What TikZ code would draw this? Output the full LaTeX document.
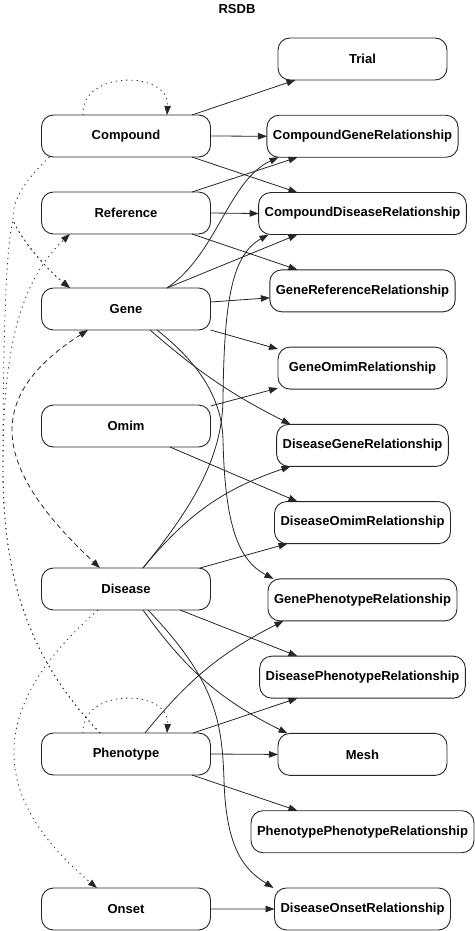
\documentclass[tikz,border=0pt]{standalone}
\usepackage{fontspec}
\setmainfont{Liberation Sans}
\usetikzlibrary{arrows.meta,positioning}

\begin{document}
\begin{tikzpicture}[
  x=1pt,y=-1pt,
  font=\fontsize{13pt}{15pt}\selectfont\bfseries,
  entity/.style={draw=black!85,line width=0.9pt,rounded corners=12pt,align=center,outer sep=0pt,
                 minimum width=169pt,minimum height=42pt,inner xsep=6pt,inner ysep=3pt},
  arr/.style={-{Triangle[length=9pt,width=6.5pt]},black!85,line width=0.8pt},
  link/.style={arr,dash pattern=on 1.2pt off 4pt},
  dep/.style={arr,dash pattern=on 5pt off 3.5pt}
]
\useasboundingbox (0,0) rectangle (474,931);
\node (rsdb) at (237,9) {RSDB};

% tables
\node[entity] (compound) at (126,136) {Compound};
\node[entity,below=35pt of compound] (reference) {Reference};
\node[entity,below=54pt of reference] (gene) {Gene};
\node[entity,below=75pt of gene] (omim) {Omim};
\node[entity,below=121pt of omim] (disease) {Disease};
\node[entity,below=123pt of disease] (phenotype) {Phenotype};
\node[entity,below=113pt of phenotype] (onset) {Onset};

% relationships
\node[entity] (trial) at (362.5,59) {Trial};
\node[entity,below=35.27pt of trial] (cgr) {CompoundGeneRelationship};
\node[entity,below=35.27pt of cgr] (cdr) {CompoundDiseaseRelationship};
\node[entity,below=35.27pt of cdr] (grr) {GeneReferenceRelationship};
\node[entity,below=35.27pt of grr] (gor) {GeneOmimRelationship};
\node[entity,below=35.27pt of gor] (dgr) {DiseaseGeneRelationship};
\node[entity,below=35.27pt of dgr] (dor) {DiseaseOmimRelationship};
\node[entity,below=35.27pt of dor] (gpr) {GenePhenotypeRelationship};
\node[entity,below=35.27pt of gpr] (dpr) {DiseasePhenotypeRelationship};
\node[entity,below=35.27pt of dpr] (mesh) {Mesh};
\node[entity,below=35.27pt of mesh] (ppr) {PhenotypePhenotypeRelationship};
\node[entity,below=35.27pt of ppr] (donr) {DiseaseOnsetRelationship};

% solid edges
\draw[arr] ([xshift=66pt]compound.north) -- ([xshift=-67pt]trial.south);
\draw[arr] (compound.east) -- (cgr.west);
\draw[arr] ([xshift=66pt]compound.south) -- ([xshift=-65pt]cdr.north);
\draw[arr] ([xshift=66pt]reference.north) -- ([xshift=-65pt]cgr.south);
\draw[arr] (reference.east) -- (cdr.west);
\draw[arr] ([xshift=66pt]reference.south) -- ([xshift=-65pt]grr.north);
\draw[arr] ([xshift=41pt]gene.north) .. controls +(50,-34) and +(-50,23) .. ([xshift=-84pt]cgr.south);
\draw[arr] ([xshift=41pt]gene.north) -- ([xshift=-65pt]cdr.south);
\draw[arr] ([yshift=7pt]gene.east) -- ([yshift=-7pt]grr.west);
\draw[arr] (gene.south east) -- ([yshift=-2pt]gor.north west);
\draw[arr] ([xshift=24pt]gene.south) to[bend right=7] ([xshift=-72pt]dgr.north);
\draw[arr] ([xshift=31pt]gene.south) .. controls (195,360) and (222,395) .. (223,440)
  .. controls (225,525) and (238,560) .. ([xshift=-89pt]gpr.north);
\draw[arr] ([yshift=-1pt]omim.north east) -- ([yshift=1pt]gor.south west);
\draw[arr] ([xshift=44pt]omim.south) -- ([xshift=-65pt]dor.north);
\draw[arr] ([xshift=17pt]disease.north) to[bend left=16] ([xshift=-72pt]dgr.south);
\draw[arr] ([xshift=74pt]disease.north) -- ([xshift=-75pt]dor.south);
\draw[arr] ([xshift=17pt]disease.north) .. controls (190,510) and (222,460) .. (223,400)
  .. controls (224,300) and (232,255) .. ([xshift=-94pt]cdr.south);
\draw[arr] ([xshift=54pt]disease.south) -- ([xshift=-65pt]dpr.north);
\draw[arr] ([xshift=17pt]disease.south) to[bend right=14] ([xshift=-75pt]mesh.north);
\draw[arr] ([xshift=22pt]disease.south) .. controls (215,680) and (222,720) .. (224,780)
  .. controls (226,850) and (245,870) .. ([xshift=-89pt]donr.north);
\draw[arr] ([xshift=19pt]phenotype.north) to[bend left=12] ([xshift=-79pt]gpr.south);
\draw[arr] ([xshift=67pt]phenotype.north) -- ([xshift=-65pt]dpr.south);
\draw[arr] (phenotype.east) -- (mesh.west);
\draw[arr] ([xshift=66pt]phenotype.south) -- ([xshift=-65pt]ppr.north);
\draw[arr] (onset.east) -- (donr.west);

% dotted and dashed links on the left
\draw[link] ([xshift=-43pt]compound.north) .. controls +(-3,-45) and +(3,-45) .. ([xshift=41pt]compound.north);
\draw[link] ([xshift=-43pt]phenotype.north) .. controls +(-3,-45) and +(3,-45) .. ([xshift=41pt]phenotype.north);
\draw[link] ([xshift=8pt]compound.south west) .. controls (25,180) and (12,200) .. (13,220)
  .. controls (22,242) and (50,272) .. ([xshift=-56pt]gene.north);
\draw[link] ([xshift=-26pt]phenotype.north) .. controls (30,660) and (3,580) .. (3,470)
  .. controls (3,360) and (5,250) .. (13,220) .. controls (22,242) and (50,272) .. ([xshift=-56pt]gene.north);
\draw[link] ([xshift=-26pt]phenotype.north) .. controls (30,660) and (3,580) .. (3,470)
  .. controls (3,380) and (10,290) .. ([xshift=-56pt]reference.south);
\draw[link] ([xshift=-28pt]disease.south) .. controls (-5,700) and (-20,790) .. ([xshift=-29pt]onset.north);
\draw[dep,{Triangle[length=9pt,width=6.5pt]}-{Triangle[length=9pt,width=6.5pt]}]
  ([xshift=-38pt]gene.south) .. controls +(-108,69) and +(-105,-98) .. ([xshift=-26pt]disease.north);
\end{tikzpicture}
\end{document}
